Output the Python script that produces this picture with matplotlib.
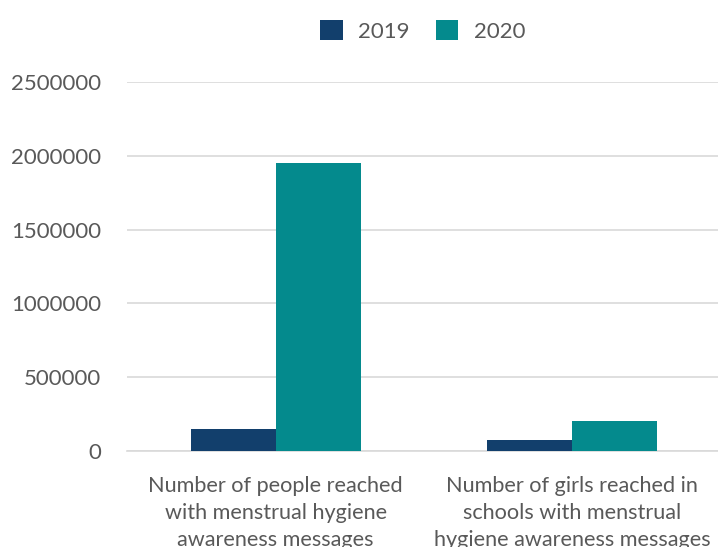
import matplotlib.pyplot as plt
import numpy as np

categories = ["Number of people reached\nwith menstrual hygiene\nawareness messages",
              "Number of girls reached in\nschools with menstrual\nhygiene awareness messages"]
years = ["2019", "2020"]
values_2019 = [150000, 75000]
values_2020 = [1950000, 203000]
yticks = [0, 500000, 1000000, 1500000, 2000000, 2500000]

plt.rcParams['font.family'] = ['Lato', 'DejaVu Sans']
text_color = '#595959'

fig = plt.figure(figsize=(7.18, 5.47), dpi=100)
ax = fig.add_axes([0.1775, 0.1755, 0.826, 0.6745])

x = np.arange(len(categories))
w = 0.287
b1 = ax.bar(x - w / 2, values_2019, w, color='#123F6C', label=years[0], zorder=3)
b2 = ax.bar(x + w / 2, values_2020, w, color='#048A8D', label=years[1], zorder=3)

ax.set_xlim(-0.5, 1.5)
ax.set_ylim(0, 2500000)
ax.set_yticks(yticks)
ax.set_yticklabels([str(v) for v in yticks], fontsize=16, color=text_color)
ax.set_xticks(x)
ax.set_xticklabels(categories, fontsize=15.6, color=text_color, linespacing=1.45)
ax.tick_params(axis='both', length=0)
ax.tick_params(axis='y', pad=19)
ax.tick_params(axis='x', pad=18)

ax.grid(axis='y', color='#D9D9D9', linewidth=1.2, zorder=0)
for s in ['top', 'right', 'left']:
    ax.spines[s].set_visible(False)
ax.spines['bottom'].set_color('#D9D9D9')
ax.spines['bottom'].set_linewidth(1.2)

leg = fig.legend(handles=[b1, b2], loc='center', bbox_to_anchor=(0.589, 0.943), ncol=2,
                 frameon=False, handlelength=1.0, handleheight=1.0, handletextpad=0.7,
                 columnspacing=1.2, prop={'size': 16})
for t in leg.get_texts():
    t.set_color(text_color)

fig.savefig("out.png", dpi=100)
